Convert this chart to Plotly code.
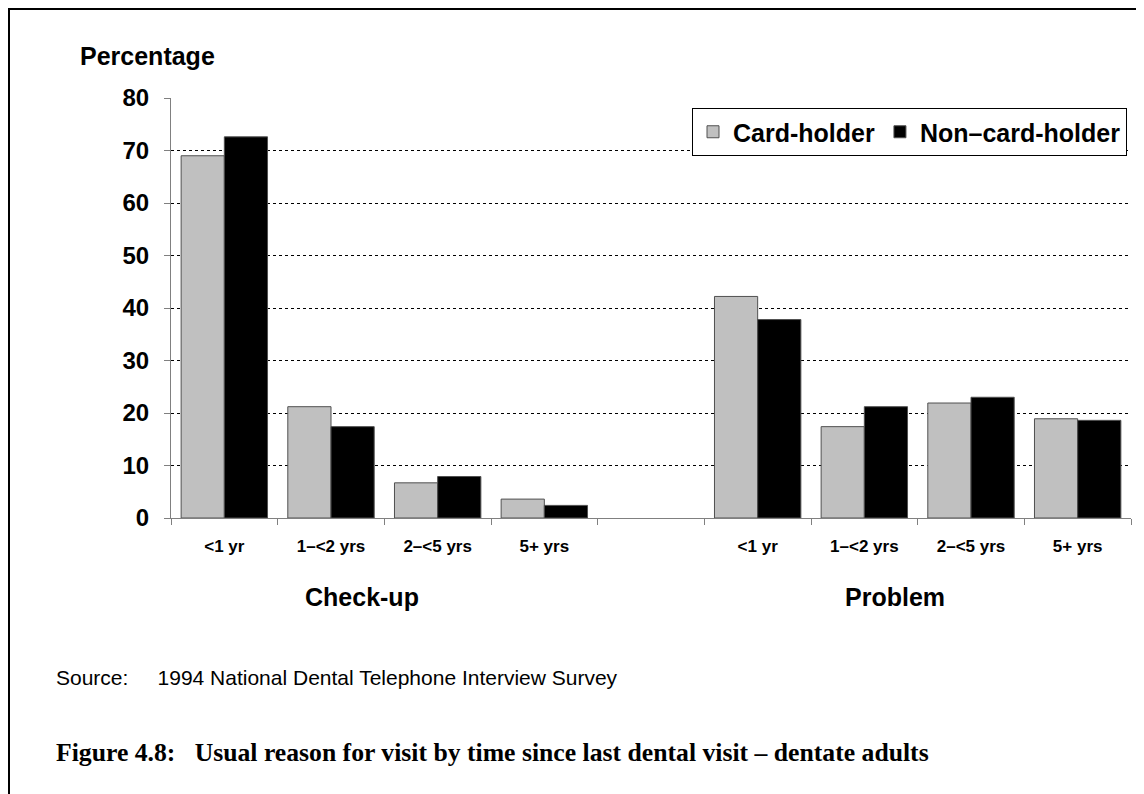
import plotly.graph_objects as go

# ---- data ----
groups = ["Check-up", "Problem"]
periods = ["<1 yr", "1\u2013<2 yrs", "2\u2013<5 yrs", "5+ yrs"]
card_checkup = [69.0, 21.2, 6.7, 3.6]
card_problem = [42.2, 17.4, 21.9, 18.9]
noncard_checkup = [72.6, 17.4, 7.9, 2.4]
noncard_problem = [37.8, 21.2, 23.0, 18.6]
y_ticks = [0, 10, 20, 30, 40, 50, 60, 70, 80]

# category positions: 4 check-up slots, one empty slot, 4 problem slots
n = len(periods)
x_pos = list(range(n)) + [n + 1 + i for i in range(n)]
tick_text = periods + periods
card_vals = card_checkup + card_problem
noncard_vals = noncard_checkup + noncard_problem

# page body has an 8px margin; layout numbers below are in screen pixels
OFF = 8
W, H = 1144, 794
L, T = 171 - OFF, 98 - OFF
PLOT_R, PLOT_B = 1131 - OFF, 518 - OFF
R, B = W - PLOT_R, H - PLOT_B
PW, PH = PLOT_R - L, PLOT_B - T


def px(x):
    return (x - OFF - L) / PW


def py(y):
    return (PLOT_B - (y - OFF)) / PH


fig = go.Figure()
fig.add_bar(x=x_pos, y=card_vals, name="Card-holder",
            marker=dict(color="#C0C0C0", line=dict(color="#505050", width=1)))
fig.add_bar(x=x_pos, y=noncard_vals, name="Non\u2013card-holder",
            marker=dict(color="#000000", line=dict(color="#505050", width=1)))

font = "Liberation Sans, Arial, sans-serif"
NB = "\u00a0"

fig.update_layout(
    width=W, height=H,
    margin=dict(l=L, r=R, t=T, b=B, pad=0),
    paper_bgcolor="white", plot_bgcolor="white",
    barmode="group", bargap=0.19, bargroupgap=0,
    font=dict(family=font, color="black"),
    showlegend=True,
    legend=dict(orientation="h", x=px(1127), xanchor="right", y=py(108), yanchor="top",
                bordercolor="black", borderwidth=1, bgcolor="white",
                font=dict(size=25, family=font, weight="bold"),
                itemwidth=30, tracegroupgap=0),
    xaxis=dict(range=[-0.5, 2 * n + 0.5], tickmode="array", tickvals=x_pos, ticktext=tick_text,
               ticks="", showline=True, linecolor="#808080", linewidth=1, showgrid=False,
               zeroline=False, ticklabelstandoff=13,
               tickfont=dict(size=17, family=font, weight="bold", color="black"),
               minor=dict(tickmode="linear", tick0=-0.5, dtick=1, ticks="outside",
                          ticklen=6, tickcolor="#808080", tickwidth=1, showgrid=False)),
    yaxis=dict(range=[0, 80], tickmode="array", tickvals=y_ticks, ticks="outside", ticklen=6,
               tickcolor="#808080", showline=True, linecolor="#808080", linewidth=1,
               showgrid=True, gridcolor="black", griddash="dot", gridwidth=1, zeroline=False,
               ticklabelstandoff=10,
               tickfont=dict(size=24, family=font, weight="bold", color="black")),
    annotations=[
        dict(text="Percentage", x=px(78), y=py(56), xref="paper", yref="paper",
             xanchor="left", yanchor="middle", showarrow=False,
             font=dict(size=25, family=font, weight="bold")),
        dict(text=groups[0], x=px(362), y=py(597), xref="paper", yref="paper",
             xanchor="center", yanchor="middle", showarrow=False,
             font=dict(size=25, family=font, weight="bold")),
        dict(text=groups[1], x=px(895), y=py(597), xref="paper", yref="paper",
             xanchor="center", yanchor="middle", showarrow=False,
             font=dict(size=25, family=font, weight="bold")),
        dict(text="Source:" + NB * 5 + "1994 National Dental Telephone Interview Survey",
             x=px(54), y=py(677), xref="paper", yref="paper", xanchor="left", yanchor="middle",
             showarrow=False, font=dict(size=21, family=font)),
        dict(text="Figure 4.8:" + NB * 3 + "Usual reason for visit by time since last dental visit \u2013 dentate adults",
             x=px(54), y=py(752), xref="paper", yref="paper", xanchor="left", yanchor="middle",
             showarrow=False,
             font=dict(size=25.7, family="Liberation Serif, Times New Roman, serif", weight="bold")),
    ],
    shapes=[
        dict(type="line", xref="paper", yref="paper", x0=px(9), x1=px(9), y0=py(9), y1=py(802),
             line=dict(color="black", width=2)),
        dict(type="line", xref="paper", yref="paper", x0=px(8), x1=px(1160), y0=py(9), y1=py(9),
             line=dict(color="black", width=2)),
    ],
)

fig.write_html("out.html")
